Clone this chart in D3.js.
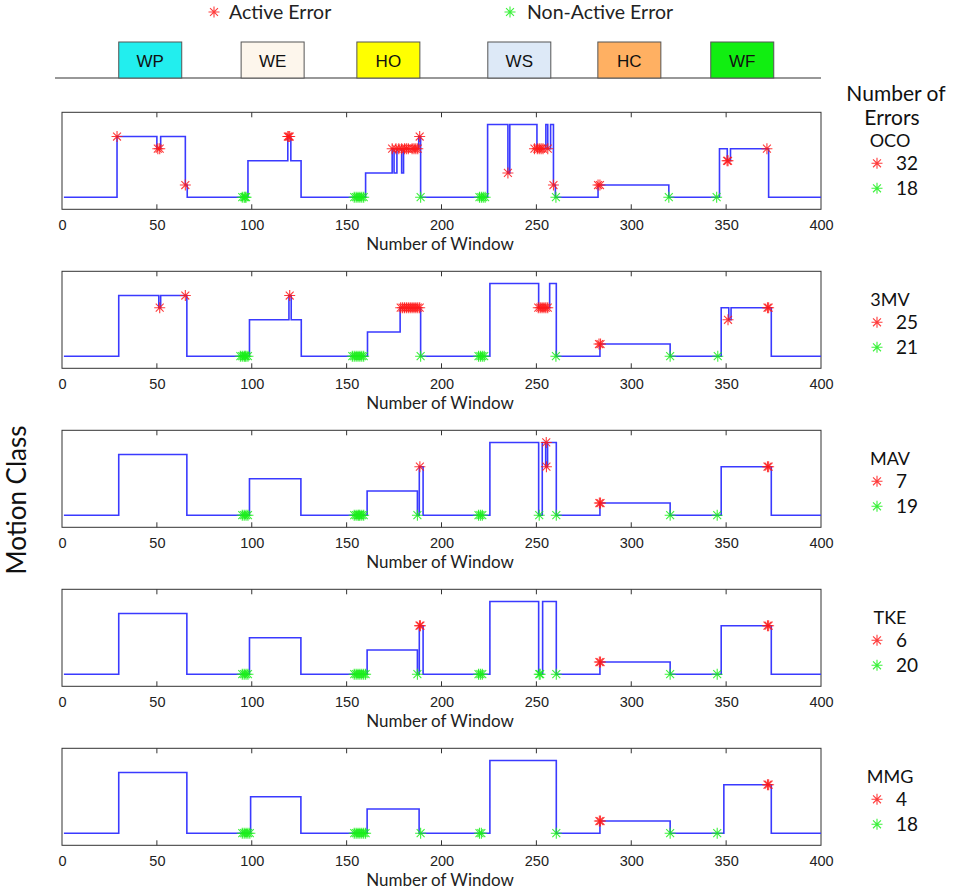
<!DOCTYPE html>
<html><head><meta charset="utf-8">
<script src="https://cdn.jsdelivr.net/npm/d3@7"></script>
<style>body{margin:0;background:#fff;} svg{display:block;}</style>
</head><body>
<svg id="chart" width="964" height="891"></svg>
<script>
// ---------- DATA ----------
const levelNames = ["Rest","HC","HO","WE","WF","WP","WS"]; // 0..6
const xTicks = [0,50,100,150,200,250,300,350,400];
const classLabels = ["WP","WE","HO","WS","HC","WF"];
const classColors = ["#22eeee","#fdf6ec","#ffff00","#dde9f7","#ffb062","#11ee11"];
const classCenters = [46.5,111,172,241,299,358.5]; // in window units
const panelNames = ["OCO","3MV","MAV","TKE","MMG"];
const activeCounts = [32,25,7,6,4];
const nonActiveCounts = [18,21,19,20,18];

// step change points [window, level]
const stepsOCO = [[1,0],[29,5],[50,4],[52,5],[65,1],[66,0],[98,3],[119,5],[120.6,3],[126,0],[160,2],[174,4],[175,2],[176.5,4],[179,2],[180,4],[188,5],[189,0],[224.3,6],[235,2],[236,6],[250.3,4],[255,6],[256,4],[257.5,6],[259,1],[260,0],[282.5,1],[319.8,0],[346.5,4],[350.6,3],[352.3,4],[372.4,0],[400,0]];
const steps3MV = [[1,0],[29.9,5],[51,4],[52,5],[65.8,0],[98.8,3],[119.6,5],[120.8,3],[126.1,0],[161,2],[178.2,4],[189,0],[225.5,6],[251.2,4],[257,6],[260.5,0],[283.5,1],[320.5,0],[347.4,4],[351.4,3],[352.6,4],[373.8,0],[400,0]];
const stepsMAV = [[1,0],[29.9,5],[65.8,0],[98.8,3],[125.9,0],[160.8,2],[187.3,0],[188.3,4],[190.3,0],[225.5,6],[251.2,0],[253.1,6],[254.9,4],[255.9,6],[260.5,0],[283.5,1],[320.5,0],[347.4,4],[373.8,0],[400,0]];
const stepsTKE = [[1,0],[29.9,5],[65.8,0],[98.8,3],[125.9,0],[160.8,2],[187.3,0],[188.3,4],[190.3,0],[225.5,6],[251.2,0],[253.3,6],[260.5,0],[283.5,1],[320.5,0],[347.4,4],[373.8,0],[400,0]];
const stepsMMG = [[1,0],[29.9,5],[65.8,0],[99.4,3],[125.9,0],[160.8,2],[188.2,0],[225.5,6],[260.5,0],[283.5,1],[320.5,0],[348.8,4],[373.8,0],[400,0]];

// active (red) errors [window, level]
const activeOCO = [[29,5],[50.5,4],[51.5,4],[65,1],[119,5],[119.5,5],[120,5],[174,4],[176,4],[177.5,4],[179,4],[180.5,4],[181.5,4],[182.5,4],[184.5,4],[185.5,4],[186.5,4],[187.5,4],[188.5,5],[235,2],[249,4],[250.5,4],[251.5,4],[252.5,4],[253.5,4],[256,4],[259,1],[282.5,1],[283.5,1],[350.5,3],[351,3],[371.5,4]];
const active3MV = [[51.5,4],[65,5],[120,5],[178.5,4],[179.5,4],[180.5,4],[181.5,4],[182.5,4],[183.5,4],[184.5,4],[185.5,4],[186.5,4],[187.5,4],[188.5,4],[251,4],[252,4],[253,4],[254,4],[255,4],[256,4],[283,1],[283.8,1],[351,3],[371.8,4],[372.4,4]];
const activeMAV = [[188.6,4],[255.2,6],[255.3,4],[283.2,1],[283.8,1],[371.8,4],[372.4,4]];
const activeTKE = [[188.4,4],[188.9,4],[283.2,1],[283.8,1],[371.8,4],[372.4,4]];
const activeMMG = [[283.2,1],[283.8,1],[371.8,4],[372.4,4]];

// non-active (green) errors [window, level]
const nonActiveOCO = [[95,0],[96,0],[96.5,0],[97,0],[154,0],[155,0],[156,0],[157,0],[158,0],[159,0],[189,0],[220,0],[221,0],[222,0],[223,0],[260.3,0],[319.8,0],[345,0]];
const nonActive3MV = [[94,0],[95,0],[96,0],[96.5,0],[97,0],[98,0],[153,0],[154,0],[155,0],[156,0],[157,0],[158,0],[159,0],[189,0],[219.5,0],[220.5,0],[221.5,0],[222.5,0],[260.3,0],[320.5,0],[345.6,0]];
const nonActiveMAV = [[95,0],[96,0],[97,0],[98,0],[154,0],[155,0],[156,0],[156.5,0],[157,0],[158,0],[159,0],[187.3,0],[219.5,0],[220.5,0],[221.5,0],[251.5,0],[260.5,0],[320.5,0],[345.3,0]];
const nonActiveTKE = [[95,0],[96,0],[97,0],[98,0],[154,0],[155,0],[156,0],[157,0],[158,0],[159,0],[160,0],[187.3,0],[219.5,0],[220.5,0],[221.5,0],[251.5,0],[252,0],[260.5,0],[320.5,0],[345.3,0]];
const nonActiveMMG = [[95,0],[96,0],[97,0],[98,0],[99,0],[154,0],[155,0],[156,0],[157,0],[158,0],[159,0],[160,0],[189,0],[220,0],[221,0],[260.5,0],[320.5,0],[345.3,0]];

const allSteps = [stepsOCO,steps3MV,stepsMAV,stepsTKE,stepsMMG];
const allActive = [activeOCO,active3MV,activeMAV,activeTKE,activeMMG];
const allNonActive = [nonActiveOCO,nonActive3MV,nonActiveMAV,nonActiveTKE,nonActiveMMG];

// ---------- DRAW ----------
const svg = d3.select("#chart");
const RED = "#ff1a1a", GREEN = "#1aee1a", BLUE = "#3a3aff";
const TXT = "Lato, 'Open Sans', sans-serif";
const ARIAL = "'Liberation Sans', Arial, sans-serif";

const x = d3.scaleLinear().domain([0,400]).range([62,821]);
const panelH = 97;
const panelTop = i => 112.3 + i*159;

function star(g, cx, cy, color, r){
  const d = r*0.72;
  g.append("path")
    .attr("d", `M${cx-r},${cy}L${cx+r},${cy}M${cx},${cy-r}L${cx},${cy+r}M${cx-d},${cy-d}L${cx+d},${cy+d}M${cx-d},${cy+d}L${cx+d},${cy-d}`)
    .attr("stroke", color).attr("stroke-width",1.1).attr("fill","none").attr("opacity",0.85);
}

// legend
const lg = svg.append("g");
star(lg, 214, 12, RED, 5.5);
lg.append("text").attr("x",229).attr("y",19).attr("font-family",TXT).attr("font-size",19.5).attr("fill","#222").text("Active Error");
star(lg, 510, 12, GREEN, 5.5);
lg.append("text").attr("x",527).attr("y",19).attr("font-family",TXT).attr("font-size",19.5).attr("fill","#222").text("Non-Active Error");

// header boxes
const hdr = svg.append("g");
hdr.append("line").attr("x1",55).attr("x2",821).attr("y1",78).attr("y2",78).attr("stroke","#333").attr("stroke-width",1.2);
classLabels.forEach((lab,i)=>{
  const cx = x(classCenters[i]);
  hdr.append("rect").attr("x",cx-31.5).attr("y",42).attr("width",63).attr("height",36)
    .attr("fill",classColors[i]).attr("stroke","#555").attr("stroke-width",1);
  hdr.append("text").attr("x",cx).attr("y",66.5).attr("text-anchor","middle")
    .attr("font-family",ARIAL).attr("font-size",17).attr("fill","#111").text(lab);
});

// right title
svg.append("text").attr("x",896).attr("y",101).attr("text-anchor","middle").attr("font-family",TXT).attr("font-size",21).attr("fill","#111").text("Number of");
svg.append("text").attr("x",892).attr("y",125).attr("text-anchor","middle").attr("font-family",TXT).attr("font-size",21).attr("fill","#111").text("Errors");

// left title
svg.append("text").attr("transform","translate(26,500) rotate(-90)").attr("text-anchor","middle")
  .attr("font-family",TXT).attr("font-size",26).attr("fill","#111").text("Motion Class");

panelNames.forEach((name,i)=>{
  const top = panelTop(i);
  const y = d3.scaleLinear().domain([-1,7]).range([top+panelH, top]);
  const g = svg.append("g");
  // frame
  g.append("rect").attr("x",x(0)).attr("y",top).attr("width",x(400)-x(0)).attr("height",panelH)
    .attr("fill","none").attr("stroke","#333").attr("stroke-width",1);
  // axes
  const axB = d3.axisBottom(x).tickValues(xTicks).tickSize(0).tickPadding(10);
  const ga = g.append("g").attr("transform",`translate(0,${top+panelH})`).call(axB);
  ga.select(".domain").remove();
  ga.selectAll("text").attr("font-family",ARIAL).attr("font-size",14.5).attr("fill","#222");
  // inner ticks
  xTicks.slice(1,-1).forEach(t=>{
    g.append("line").attr("x1",x(t)).attr("x2",x(t)).attr("y1",top+panelH).attr("y2",top+panelH-5).attr("stroke","#333");
    g.append("line").attr("x1",x(t)).attr("x2",x(t)).attr("y1",top).attr("y2",top+5).attr("stroke","#333");
  });
  g.append("text").attr("x",440).attr("y",top+panelH+41).attr("text-anchor","middle")
    .attr("font-family",TXT).attr("font-size",17).attr("fill","#222").text("Number of Window");
  // step line
  const line = d3.line().x(d=>x(d[0])).y(d=>y(d[1])).curve(d3.curveStepAfter);
  g.append("path").datum(allSteps[i]).attr("d",line).attr("fill","none").attr("stroke",BLUE).attr("stroke-width",1.6);
  // markers
  allNonActive[i].forEach(d=>star(g,x(d[0]),y(d[1]),GREEN,5.5));
  allActive[i].forEach(d=>star(g,x(d[0]),y(d[1]),RED,5.5));
  // right labels
  svg.append("text").attr("x",890).attr("y",top+35).attr("text-anchor","middle").attr("font-family",TXT).attr("font-size",18).attr("fill","#111").text(name);
  star(svg,877,top+51,RED,5.5);
  svg.append("text").attr("x",896).attr("y",top+58).attr("font-family",TXT).attr("font-size",19).attr("fill","#111").text(activeCounts[i]);
  star(svg,877,top+76,GREEN,5.5);
  svg.append("text").attr("x",896).attr("y",top+83).attr("font-family",TXT).attr("font-size",19).attr("fill","#111").text(nonActiveCounts[i]);
});
</script>
</body></html>
